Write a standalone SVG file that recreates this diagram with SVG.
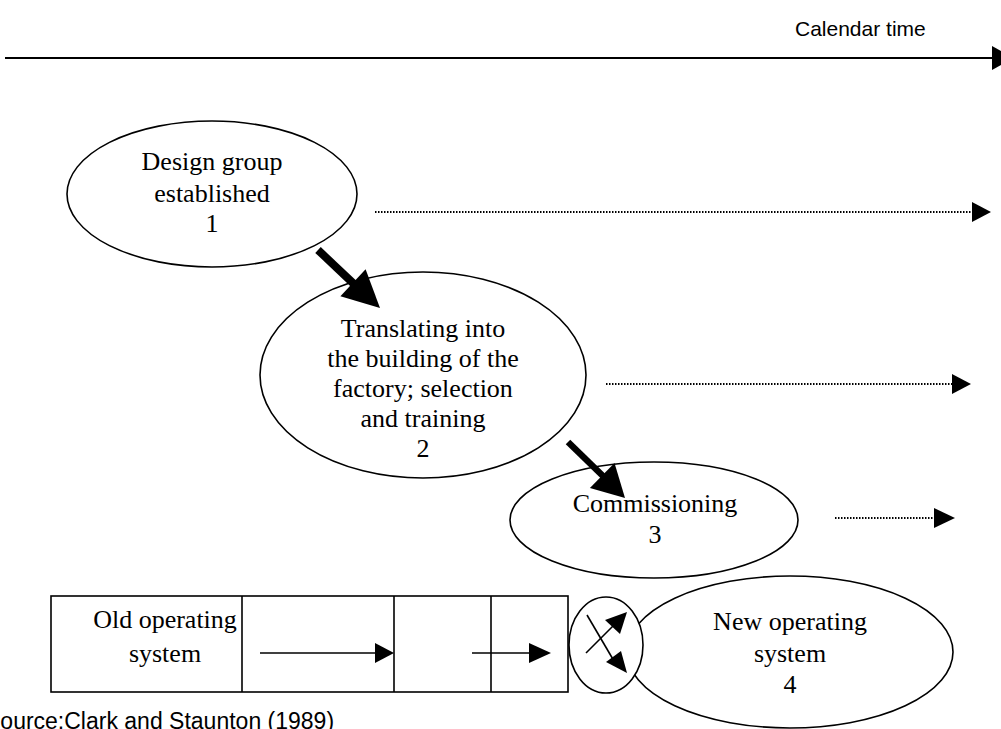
<svg xmlns="http://www.w3.org/2000/svg" width="1001" height="729" viewBox="0 0 1001 729">
<style>
.node{fill:#fff;stroke:#000;stroke-width:1.6}
.t{font-family:"Liberation Serif","Times New Roman",serif;font-size:26px;fill:#000;text-anchor:middle}
.s{font-family:"Liberation Sans",Arial,sans-serif;font-size:21px;fill:#000}
.dot{stroke:#000;stroke-width:2;stroke-dasharray:1.5 1.5;fill:none}
.ln{stroke:#000;stroke-width:1.6;fill:none}
.thick{stroke:#000;fill:none}
.head{fill:#000;stroke:none}
</style>
<rect width="1001" height="729" fill="#fff"/>
<g id="timeline">
<text class="s" x="795" y="36">Calendar time</text>
<line x1="5" y1="58" x2="993" y2="58" stroke="#000" stroke-width="2.2"/>
<polygon class="head" points="992,46 1014,58 992,70"/>
</g>
<g id="node1">
<ellipse class="node" cx="212" cy="194" rx="145" ry="73"/>
<text class="t" x="212" y="170">Design group</text>
<text class="t" x="212" y="202">established</text>
<text class="t" x="212" y="232">1</text>
</g>
<g id="node2">
<ellipse class="node" cx="423" cy="375" rx="163" ry="103"/>
<text class="t" x="423" y="337">Translating into</text>
<text class="t" x="423" y="367">the building of the</text>
<text class="t" x="423" y="397">factory; selection</text>
<text class="t" x="423" y="427">and training</text>
<text class="t" x="423" y="457">2</text>
</g>
<g id="node3">
<ellipse class="node" cx="654" cy="520" rx="144" ry="58"/>
<text class="t" x="655" y="512">Commissioning</text>
<text class="t" x="655" y="543">3</text>
</g>
<g id="node-old">
<rect class="node" x="51" y="596" width="517" height="96"/>
<line class="ln" x1="242" y1="596" x2="242" y2="692"/>
<line class="ln" x1="394" y1="596" x2="394" y2="692"/>
<line class="ln" x1="491" y1="596" x2="491" y2="692"/>
<text class="t" x="165" y="628">Old operating</text>
<text class="t" x="165" y="662">system</text>
</g>
<g id="node4">
<ellipse class="node" cx="790" cy="652" rx="163" ry="76"/>
<text class="t" x="790" y="630">New operating</text>
<text class="t" x="790" y="662">system</text>
<text class="t" x="790" y="693">4</text>
</g>
<g id="node-switch">
<ellipse class="node" cx="606" cy="645" rx="37" ry="48"/>
<line class="ln" x1="586" y1="653" x2="614" y2="625"/>
<polygon class="head" points="627,612 620,634 605,620"/>
<line class="ln" x1="587" y1="615" x2="614" y2="661"/>
<polygon class="head" points="627,673 606,662 621,651"/>
</g>
<g id="connectors">
<line class="thick" x1="318" y1="250" x2="355" y2="285" stroke-width="8"/>
<polygon class="head" points="380,308 340.4,296.2 365.6,269.2"/>
<line class="thick" x1="568" y1="442" x2="604" y2="477" stroke-width="6.5"/>
<polygon class="head" points="625,498 589.9,488.1 614.5,463.1"/>
<line class="dot" x1="375" y1="212" x2="972" y2="212"/>
<polygon class="head" points="972,202 991,212 972,222"/>
<line class="dot" x1="606" y1="384" x2="952" y2="384"/>
<polygon class="head" points="952,374 971,384 952,394"/>
<line class="dot" x1="835" y1="518" x2="934" y2="518"/>
<polygon class="head" points="934,508 955,518 934,528"/>
<line class="ln" x1="260" y1="653" x2="376" y2="653"/>
<polygon class="head" points="375,643 394,653 375,663"/>
<line class="ln" x1="472" y1="653" x2="530" y2="653"/>
<polygon class="head" points="529,643 551,653 529,663"/>
</g>
<text class="s" x="-15" y="729" style="font-size:23px">Source:Clark and Staunton (1989)</text>
</svg>
